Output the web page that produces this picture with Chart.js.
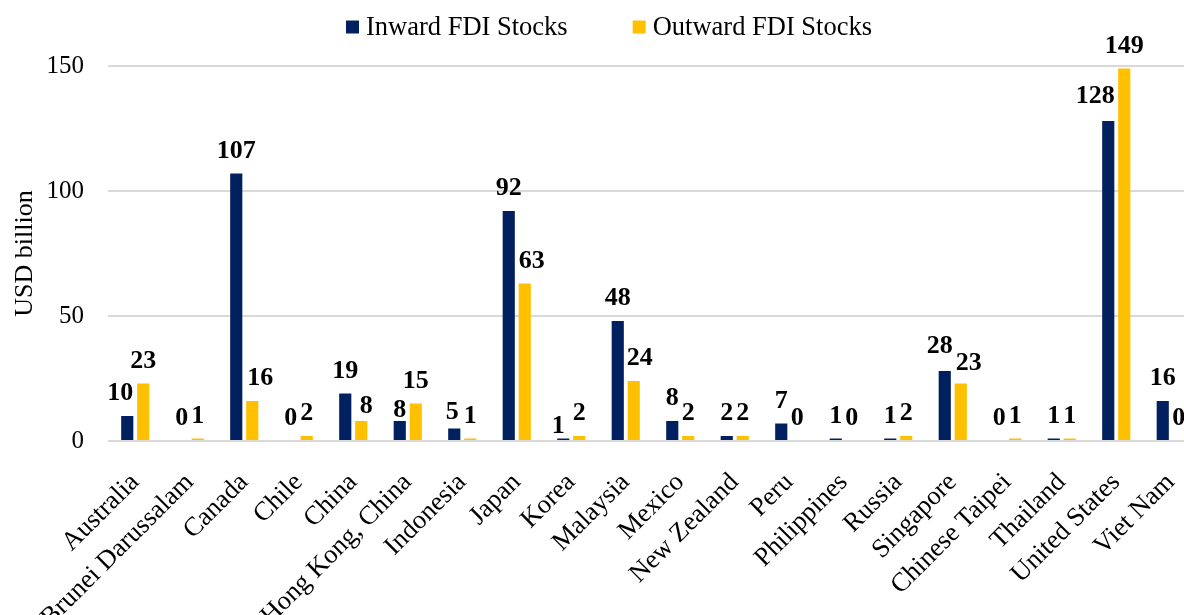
<!DOCTYPE html>
<html>
<head>
<meta charset="utf-8">
<script src="https://cdn.jsdelivr.net/npm/chart.js@4/dist/chart.umd.min.js"></script>
<style>
html,body{margin:0;padding:0;background:#fff;overflow:hidden;width:1184px;height:615px}
#wrap{position:relative;width:1200px;height:615px}
</style>
</head>
<body>
<div id="wrap"><canvas id="c"></canvas></div>
<script>
const categories = ['Australia','Brunei Darussalam','Canada','Chile','China','Hong Kong, China','Indonesia','Japan','Korea','Malaysia','Mexico','New Zealand','Peru','Philippines','Russia','Singapore','Chinese Taipei','Thailand','United States','Viet Nam'];
const inwardValues  = [10, 0, 107, 0, 19, 8, 5, 92, 1, 48, 8, 2, 7, 1, 1, 28, 0, 1, 128, 16];
const outwardValues = [23, 1, 16, 2, 8, 15, 1, 63, 2, 24, 2, 2, 0, 0, 2, 23, 1, 1, 149, 0];
const seriesNames = ['Inward FDI Stocks', 'Outward FDI Stocks'];
const yTickValues = [0, 50, 100, 150];
const yAxisTitle = 'USD billion';

const COLORS = ['#002060', '#FFC000'];
const FONT = "'Liberation Serif', 'Times New Roman', serif";
// small manual nudges of individual value labels (series:index -> [dx, dy])
const labelNudge = {
  '0:0': [-7, 0], '1:2': [8, 0], '1:4': [5, 8], '0:5': [0, 12], '0:6': [-2, 6],
  '1:7': [7, 0], '0:8': [-5, 10], '1:9': [6, 0], '0:15': [-5, -2], '1:15': [8, 2],
  '0:18': [-13, -2]
};

const valueLabels = {
  id: 'valueLabels',
  afterDatasetsDraw(chart) {
    const ctx = chart.ctx;
    ctx.save();
    ctx.font = "bold 26px " + FONT;
    ctx.fillStyle = '#000';
    ctx.textAlign = 'center';
    ctx.textBaseline = 'alphabetic';
    chart.data.datasets.forEach((ds, di) => {
      const meta = chart.getDatasetMeta(di);
      meta.data.forEach((el, i) => {
        const n = labelNudge[di + ':' + i] || [0, 0];
        ctx.fillText(String(ds.data[i]), el.x + n[0], el.y - 16 + n[1]);
      });
    });
    ctx.restore();
  }
};

const customLegend = {
  id: 'customLegend',
  afterDraw(chart) {
    const ctx = chart.ctx;
    ctx.save();
    ctx.font = "26.5px " + FONT;
    ctx.textBaseline = 'middle';
    ctx.textAlign = 'left';
    const box = 13, gap = 7, itemGap = 65;
    const widths = chart.data.datasets.map(ds => box + gap + ctx.measureText(ds.label).width);
    const total = widths.reduce((a, b) => a + b, 0) + itemGap * (widths.length - 1);
    let x = 609 - total / 2;
    const y = 27;
    chart.data.datasets.forEach((ds, i) => {
      ctx.fillStyle = ds.backgroundColor;
      ctx.fillRect(x, y - box / 2, box, box);
      ctx.fillStyle = '#000';
      ctx.fillText(ds.label, x + box + gap, y + 1);
      x += widths[i] + itemGap;
    });
    ctx.restore();
  }
};

new Chart(document.getElementById('c'), {
  type: 'bar',
  data: {
    labels: categories,
    datasets: [
      { label: seriesNames[0], data: inwardValues, backgroundColor: COLORS[0],
        categoryPercentage: 0.587, barPercentage: 0.76 },
      { label: seriesNames[1], data: outwardValues, backgroundColor: COLORS[1],
        categoryPercentage: 0.587, barPercentage: 0.76 }
    ]
  },
  options: {
    responsive: true,
    maintainAspectRatio: false,
    animation: false,
    layout: { padding: { top: 66, left: 10, right: 2, bottom: 0 } },
    plugins: { legend: { display: false }, tooltip: { enabled: false } },
    scales: {
      x: {
        grid: { display: false, drawTicks: false },
        border: { display: false },
        ticks: {
          autoSkip: false, minRotation: 45, maxRotation: 45, padding: 26,
          color: '#000', font: { family: FONT, size: 26.5 }
        },
        afterFit(scale) {
          scale.height = 174;
          scale.paddingLeft = 0;
          scale.paddingRight = 0;
        }
      },
      y: {
        min: 0, max: 150,
        afterBuildTicks(scale) { scale.ticks = yTickValues.map(v => ({ value: v })); },
        grid: { color: '#d9d9d9', lineWidth: 2, drawTicks: false },
        border: { display: false },
        ticks: { padding: 24, color: '#000', font: { family: FONT, size: 25 } },
        title: { display: true, text: yAxisTitle, color: '#000', padding: 0,
                 font: { family: FONT, size: 26, lineHeight: 1.2 } },
        afterFit(scale) { scale.width = 98; }
      }
    }
  },
  plugins: [valueLabels, customLegend]
});
</script>
</body>
</html>
